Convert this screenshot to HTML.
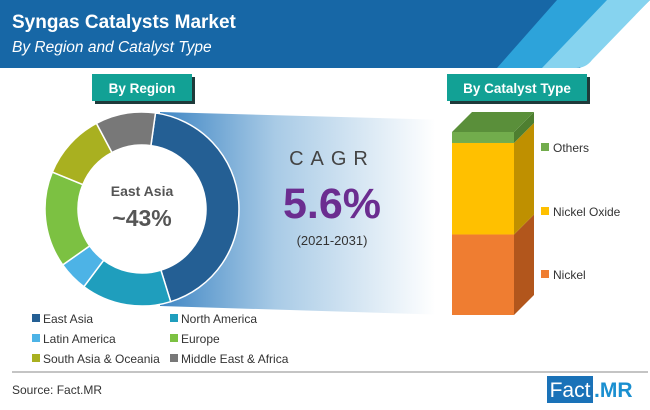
<!DOCTYPE html>
<html><head><meta charset="utf-8">
<style>
html,body{margin:0;padding:0;background:#fff;}
body{width:650px;height:405px;overflow:hidden;font-family:"Liberation Sans",sans-serif;}
</style></head>
<body>
<svg id="chart" width="650" height="405" viewBox="0 0 650 405" xmlns="http://www.w3.org/2000/svg">
<defs>
<linearGradient id="fan" x1="0" x2="1" y1="0" y2="0">
<stop offset="0" stop-color="#3f86c4"/>
<stop offset="0.4" stop-color="#a9cbe6"/>
<stop offset="0.95" stop-color="#ffffff"/>
</linearGradient>
</defs>
<g>
<rect x="0" y="0" width="650" height="68" fill="#1767a6"/>
<polygon points="650,0 650,68 580,68" fill="#fff"/>
<path d="M600,0 L650,0 L650,0 L592,60 Q586,68 576,68 L536,68 Z" fill="#86d3ef"/>
<polygon points="557,0 607,0 542,68 497,68" fill="#2da3da"/>
<text x="12" y="28" font-size="19" font-weight="bold" fill="#fff">Syngas Catalysts Market</text>
<text x="12" y="52" font-size="15.5" font-style="italic" fill="#fff">By Region and Catalyst Type</text>
</g>
<g>
<rect x="95" y="77" width="100" height="27" fill="#1f3a3a"/>
<rect x="92" y="74" width="100" height="27" fill="#12a195"/>
<text x="142" y="93" text-anchor="middle" font-size="13.5" font-weight="bold" fill="#fff">By Region</text>
</g>
<g>
<rect x="450" y="77" width="140" height="27" fill="#1f3a3a"/>
<rect x="447" y="74" width="140" height="27" fill="#12a195"/>
<text x="517" y="93" text-anchor="middle" font-size="13.5" font-weight="bold" fill="#fff">By Catalyst Type</text>
</g>
<polygon points="160,112 450,120 450,315 160,306" fill="url(#fan)"/>
<circle cx="142" cy="209" r="65" fill="#fff"/>
<g id="donut"></g>
<g>
<text x="142" y="196" text-anchor="middle" font-size="14" font-weight="bold" fill="#555">East Asia</text>
<text x="142" y="226" text-anchor="middle" font-size="23" font-weight="bold" fill="#555">~43%</text>
</g>
<g>
<text x="332" y="165" text-anchor="middle" font-size="20" letter-spacing="7" fill="#444">CAGR</text>
<text x="332" y="218" text-anchor="middle" font-size="43" font-weight="bold" fill="#6b2d90">5.6%</text>
<text x="332" y="245" text-anchor="middle" font-size="13" fill="#333">(2021-2031)</text>
</g>
<g id="bar"></g>
<g id="barlegend"></g>
<g id="legend"></g>
<line x1="12" y1="372" x2="648" y2="372" stroke="#888" stroke-width="1"/>
<text x="12" y="394" font-size="12" fill="#333">Source: Fact.MR</text>
<g>
<rect x="547" y="376" width="46" height="27" fill="#1a72b8"/>
<text x="570" y="397" text-anchor="middle" font-size="21" fill="#fff">Fact</text>
<text x="594" y="397" font-size="21" font-weight="bold" fill="#1a8fd0">.MR</text>
</g>
</svg>
<script>
const regions = ["East Asia","North America","Latin America","Europe","South Asia & Oceania","Middle East & Africa"];
const regionShares = [43,15,5,16,11,10];
const regionColors = ["#245f94","#1f9ebd","#4db3e6","#7cc142","#a9b020","#787878"];
const catalystTypes = ["Nickel","Nickel Oxide","Others"];
const catalystShares = [44,50,6];
const catalystFront = ["#ef7d31","#ffc000","#72ac4c"];
const catalystSide = ["#b2561c","#bf9000","#4e7f30"];

const NS="http://www.w3.org/2000/svg";
function mk(tag,attrs,parent){const e=document.createElementNS(NS,tag);for(const k in attrs)e.setAttribute(k,attrs[k]);parent.appendChild(e);return e;}

// donut
const cx=142,cy=209,R=97,r=64,start=8;
const total=regionShares.reduce((a,b)=>a+b,0);
function pt(rad,deg){const a=(deg-90)*Math.PI/180;return [cx+rad*Math.cos(a),cy+rad*Math.sin(a)];}
let ang=start;
const donut=document.getElementById('donut');
regionShares.forEach((v,i)=>{
  const sweep=v/total*360,a0=ang,a1=ang+sweep;ang=a1;
  const [x0,y0]=pt(R,a0),[x1,y1]=pt(R,a1),[x2,y2]=pt(r,a1),[x3,y3]=pt(r,a0);
  const lg=sweep>180?1:0;
  const p=mk('path',{d:`M${x0},${y0} A${R},${R} 0 ${lg} 1 ${x1},${y1} L${x2},${y2} A${r},${r} 0 ${lg} 0 ${x3},${y3} Z`,fill:regionColors[i],stroke:'#fff','stroke-width':1.5},donut);
  
  
});

// region legend
const leg=document.getElementById('legend');
regions.forEach((name,i)=>{
  const col=i%2,row=Math.floor(i/2);
  const x=col?170:32,y=319+row*20;
  const g=mk('g',{},leg);
  
  
  mk('rect',{x:x,y:y-5,width:8,height:8,fill:regionColors[i]},g);
  const t=mk('text',{x:x+11,y:y+4,'font-size':12,fill:'#333'},g);t.textContent=name;
});

// stacked bar
const bx=452,bw=62,bBottom=315,bH=183,dx=20,dy=20;
const legendY=[275,212,148];
const bar=document.getElementById('bar');
const ctotal=catalystShares.reduce((a,b)=>a+b,0);
let yb=bBottom;
catalystShares.forEach((v,i)=>{
  const h=v/ctotal*bH,yt=yb-h;
  const g=mk('g',{},bar);
  
  
  mk('rect',{x:bx,y:yt,width:bw,height:h,fill:catalystFront[i]},g);
  mk('polygon',{points:`${bx+bw},${yb} ${bx+bw+dx},${yb-dy} ${bx+bw+dx},${yt-dy} ${bx+bw},${yt}`,fill:catalystSide[i]},g);
  if(i===catalystShares.length-1){
    mk('polygon',{points:`${bx},${yt} ${bx+bw},${yt} ${bx+bw+dx},${yt-dy} ${bx+dx},${yt-dy}`,fill:'#5a8f3a'},g);
  }
  const ly=legendY[i];
  const lg=mk('g',{},document.getElementById('barlegend'));
  
  
  mk('rect',{x:541,y:ly-5,width:8,height:8,fill:catalystFront[i]},lg);
  const t=mk('text',{x:553,y:ly+4,'font-size':12,fill:'#333'},lg);t.textContent=catalystTypes[i];
  yb=yt;
});
</script>
</body></html>
